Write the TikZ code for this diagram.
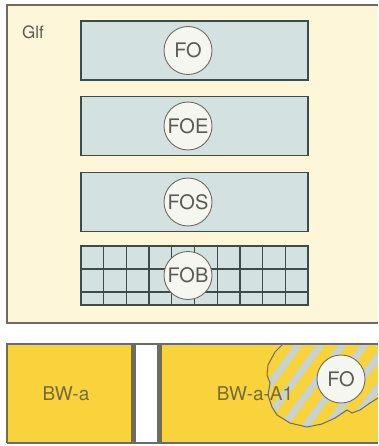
\documentclass[tikz,border=0pt]{standalone}
\usepackage{fontspec}
\setmainfont{TeX Gyre Heros}
\definecolor{cream}{HTML}{FDF6D8}
\definecolor{bandblue}{HTML}{D3E1E0}
\definecolor{bandline}{HTML}{3F4B47}
\definecolor{framegrey}{HTML}{6E6C62}
\definecolor{gold}{HTML}{F8D33C}
\definecolor{stripe}{HTML}{C8D2CE}
\definecolor{ink}{HTML}{5A5A55}
\definecolor{inkgold}{HTML}{7A6A3A}
\definecolor{disc}{HTML}{F6F6F1}
\begin{document}
\begin{tikzpicture}[x=1pt,y=-1pt,
    band/.style={draw=bandline,line width=1.6pt,fill=bandblue,
      minimum width=227pt,minimum height=59pt,inner sep=0pt},
    disk/.style={circle,draw=framegrey,line width=0.9pt,fill=disc,
      minimum size=48pt,inner sep=0pt,text=ink,
      font=\fontsize{20}{20}\selectfont},
    label/.style={text=ink,font=\fontsize{17}{17}\selectfont},
    goldlabel/.style={text=inkgold,font=\fontsize{19}{19}\selectfont}]
  \useasboundingbox (0,0) rectangle (378,446);
  % upper panel
  \fill[cream] (7,5) rectangle (378,323);
  \draw[framegrey,line width=1.3pt] (378,5) -- (7,5) -- (7,323) -- (378,323);
  \node[label] (glf) at (33,32) {Glf};
  \draw
    (194.5,50.5) node[band] (bfo){}
    (194.5,126) node[band] (bfoe){}
    (194.5,202) node[band] (bfos){}
    (194.5,275.5) node[band] (bfob){};
  \begin{scope}[bandline,line width=1.3pt]
    \foreach \i in {1,...,9}
      \draw (81+22.7*\i,246) -- (81+22.7*\i,305);
    \draw (81,269) -- (308,269);
    \draw (81,292) -- (308,292);
  \end{scope}
  \draw
    ([xshift=-6.5pt]bfo.center) node[disk] (fo){FO}
    ([xshift=-6.5pt]bfoe.center) node[disk] (foe){FOE}
    ([xshift=-6.5pt]bfos.center) node[disk] (fos){FOS}
    ([xshift=-6.5pt]bfob.center) node[disk] (fob){FOB};
  % lower panel
  \fill[gold] (7,344) rectangle (134,443);
  \fill[gold] (159,344) rectangle (378,443);
  \begin{scope}
    \clip (283,344) -- (275,352) -- (268,365) -- (267,375) -- (270,383)
      -- (268,395) -- (272,407) -- (277,415) -- (290,423) -- (307,427)
      -- (322,424) -- (335,418) -- (347,410) -- (352,413) -- (360,410)
      -- (370,403) -- (378,398) -- (378,344) -- cycle;
    \foreach \s in {0,...,9}
      \draw[stripe,line width=7pt] (200+22*\s,450) -- (280+22*\s,340);
  \end{scope}
  \draw[framegrey,line width=1pt] (283,344) -- (275,352) -- (268,365)
    -- (267,375) -- (270,383) -- (268,395) -- (272,407) -- (277,415)
    -- (290,423) -- (307,427) -- (322,424) -- (335,418) -- (347,410)
    -- (352,413) -- (360,410) -- (370,403) -- (378,398);
  \draw[framegrey,line width=1.3pt] (378,344) -- (7,344) -- (7,443);
  \draw[framegrey,line width=2.5pt] (7,443) -- (378,443);
  \draw[framegrey,line width=5pt] (133.5,344) -- (133.5,443);
  \draw[framegrey,line width=5pt] (159.5,344) -- (159.5,443);
  \node[goldlabel] (bwa) at (66,394) {BW-a};
  \node[goldlabel] (bwaa) at (255,394) {BW-a-A1};
  \node[disk] (fobw) at (341,379) {FO};
\end{tikzpicture}
\end{document}
